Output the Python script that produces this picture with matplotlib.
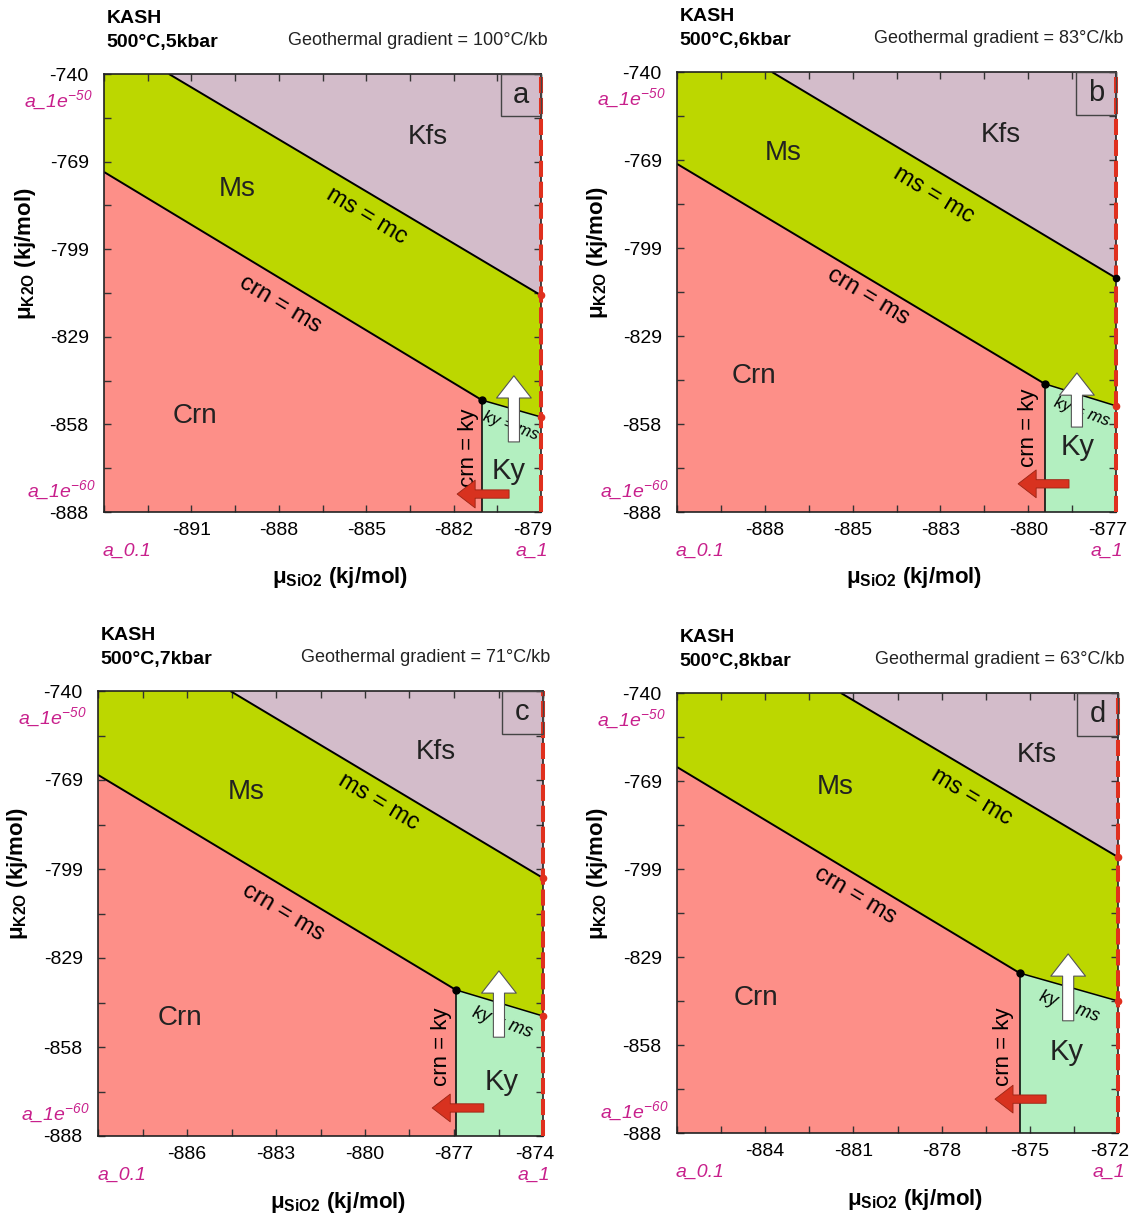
import matplotlib.pyplot as plt
import numpy as np
from matplotlib.patches import Polygon, Rectangle
from matplotlib.transforms import ScaledTranslation

plt.rcParams['font.family'] = ['Liberation Sans', 'DejaVu Sans']
plt.rcParams['mathtext.fontset'] = 'custom'
plt.rcParams['mathtext.rm'] = 'Liberation Sans'
plt.rcParams['mathtext.it'] = 'Liberation Sans:italic'
plt.rcParams['mathtext.bf'] = 'Liberation Sans:bold'

# --- data -------------------------------------------------------------
panel_names = ['a', 'b', 'c', 'd']
pressures = [5, 6, 7, 8]          # kbar, T = 500 C
gradients = [100, 83, 71, 63]     # C/kb

# mu SiO2 at a_SiO2 = 1 (right edge); left edge is a_SiO2 = 0.1
sio2_max = [-879.0, -876.6, -874.2, -872.0]
sio2_span = 14.8
k2o_top = -740.0       # a_K2O = 1e-50
k2o_bottom = -888.0    # a_K2O = 1e-60

x_tick_labels = [
    ['-891', '-888', '-885', '-882', '-879'],
    ['-888', '-885', '-883', '-880', '-877'],
    ['-886', '-883', '-880', '-877', '-874'],
    ['-884', '-881', '-878', '-875', '-872'],
]
y_tick_labels = ['-888', '-858', '-829', '-799', '-769', '-740']

# reaction lines (kJ/mol)
ms_mc_top_x = [-891.6, -888.2, -884.6, -881.3]
ms_mc_right_y = [-814.8, -809.3, -802.2, -795.2]
crn_ms_left_y = [-773.1, -770.9, -767.9, -764.9]
triple_x = [-881.0, -879.0, -877.1, -875.3]
triple_y = [-850.2, -844.9, -839.4, -834.2]
ky_ms_right_y = [-855.9, -852.3, -848.1, -843.6]

# --- styling / layout -------------------------------------------------
KFS = '#d3bcca'
MS = '#bcd700'
CRN = '#fd8f88'
KY = '#b3efc0'
RED = '#e0301e'
MAGENTA = '#c8208c'

W, H = 1135, 1227
# axes boxes in pixels: left, right, top, bottom
boxes = [(104, 541, 74, 512), (677, 1116, 72, 512),
         (98, 543, 691, 1136), (677, 1118, 693, 1133)]

# label spots in axes fraction
region_pos = [
    {'Kfs': (0.741, 0.856), 'Ms': (0.304, 0.738), 'Crn': (0.208, 0.219), 'Ky': (0.927, 0.093)},
    {'Kfs': (0.738, 0.857), 'Ms': (0.241, 0.816), 'Crn': (0.175, 0.309), 'Ky': (0.913, 0.148)},
    {'Kfs': (0.760, 0.863), 'Ms': (0.333, 0.773), 'Crn': (0.184, 0.265), 'Ky': (0.908, 0.121)},
    {'Kfs': (0.816, 0.859), 'Ms': (0.358, 0.786), 'Crn': (0.179, 0.307), 'Ky': (0.884, 0.184)},
]
line_pos = [
    {'ms = mc': (0.602, 0.675), 'crn = ms': (0.403, 0.473), 'crn = ky': (0.833, 0.146), 'ky = ms': (0.931, 0.197)},
    {'ms = mc': (0.585, 0.720), 'crn = ms': (0.435, 0.491), 'crn = ky': (0.800, 0.191), 'ky = ms': (0.923, 0.227)},
    {'ms = mc': (0.631, 0.751), 'crn = ms': (0.416, 0.503), 'crn = ky': (0.771, 0.200), 'ky = ms': (0.908, 0.254)},
    {'ms = mc': (0.669, 0.764), 'crn = ms': (0.404, 0.541), 'crn = ky': (0.741, 0.195), 'ky = ms': (0.889, 0.286)},
]
white_arrows = [(0.938, 0.160, 0.311), (0.911, 0.193, 0.316), (0.901, 0.222, 0.371), (0.887, 0.255, 0.407)]
red_arrows = [(0.041, 0.927, 0.808), (0.064, 0.893, 0.777), (0.063, 0.867, 0.751), (0.077, 0.837, 0.721)]
edge_dot_colors = [(RED, RED), ('black', RED), (RED, RED), (RED, RED)]


def draw_panel(fig, i):
    l, r, t, b = boxes[i]
    ax = fig.add_axes([l / W, 1 - b / H, (r - l) / W, (b - t) / H])
    xr = sio2_max[i]
    xl = xr - sio2_span
    yt, yb = k2o_top, k2o_bottom
    tx, ty = triple_x[i], triple_y[i]

    ax.set_xlim(xl, xr)
    ax.set_ylim(yb, yt)
    ax.set_facecolor(KFS)

    ms_poly = [(xl, yt), (ms_mc_top_x[i], yt), (xr, ms_mc_right_y[i]),
               (xr, ky_ms_right_y[i]), (tx, ty), (xl, crn_ms_left_y[i])]
    crn_poly = [(xl, crn_ms_left_y[i]), (tx, ty), (tx, yb), (xl, yb)]
    ky_poly = [(tx, ty), (xr, ky_ms_right_y[i]), (xr, yb), (tx, yb)]
    for pts, col in [(ms_poly, MS), (crn_poly, CRN), (ky_poly, KY)]:
        ax.add_patch(Polygon(pts, closed=True, fc=col, ec='none', zorder=1))

    lk = dict(color='black', lw=1.4, zorder=2, solid_capstyle='butt')
    ax.plot([ms_mc_top_x[i], xr], [yt, ms_mc_right_y[i]], **lk)
    ax.plot([xl, tx], [crn_ms_left_y[i], ty], **lk)
    ax.plot([tx, xr], [ty, ky_ms_right_y[i]], lw=1.1, color='black', zorder=2)
    ax.plot([tx, tx], [ty, yb], lw=1.1, color='black', zorder=2)

    ax.axvline(xr, color=RED, lw=2.9, dashes=(4.0, 1.2), zorder=4, clip_on=False)
    ax.plot(tx, ty, 'o', color='black', ms=5, zorder=5)
    c1, c2 = edge_dot_colors[i]
    ax.plot(xr, ms_mc_right_y[i], 'o', color=c1, ms=4.5, zorder=5, clip_on=False)
    ax.plot(xr, ky_ms_right_y[i], 'o', color=c2, ms=4.5, zorder=5, clip_on=False)

    # ticks
    xt = np.linspace(xl, xr, 6)
    yt_ = np.linspace(yb, yt, 6)
    ax.set_xticks(xt)
    ax.set_xticklabels([''] + x_tick_labels[i])
    ax.set_xticks((xt[:-1] + xt[1:]) / 2, minor=True)
    ax.set_yticks(yt_)
    ax.set_yticklabels(y_tick_labels)
    ax.set_yticks((yt_[:-1] + yt_[1:]) / 2, minor=True)
    ax.tick_params(which='both', direction='in', top=True, right=True,
                   length=5, width=1, color='#333333', labelsize=14)
    ax.tick_params(axis='x', pad=7)
    ax.tick_params(axis='y', pad=11)
    last = ax.get_xticklabels()[-1]
    last.set_transform(last.get_transform() + ScaledTranslation(-0.08, 0, fig.dpi_scale_trans))
    for s in ax.spines.values():
        s.set_linewidth(1.2)
        s.set_color('#222222')
        s.set_zorder(3)

    # region and reaction labels
    for name, (px, py) in region_pos[i].items():
        ax.text(px, py, name, transform=ax.transAxes, fontsize=21 if name == 'Ky' else 20,
                color='#222222', ha='center', va='center', zorder=6)
    lp = line_pos[i]
    ax.text(*lp['ms = mc'], 'ms = mc', transform=ax.transAxes, fontsize=17,
            rotation=-31, ha='center', va='center', zorder=6)
    ax.text(*lp['crn = ms'], 'crn = ms', transform=ax.transAxes, fontsize=17,
            rotation=-31, ha='center', va='center', zorder=6)
    ax.text(*lp['crn = ky'], 'crn = ky', transform=ax.transAxes, fontsize=16,
            rotation=90, ha='center', va='center', zorder=6)
    ax.text(*lp['ky = ms'], 'ky = ms', transform=ax.transAxes, fontsize=13 if i > 1 else 12,
            style='italic', rotation=-20, ha='center', va='center', zorder=6)

    # arrows
    wx, w0, w1 = white_arrows[i]
    ax.annotate('', xy=(wx, w1), xytext=(wx, w0), xycoords='axes fraction',
                arrowprops=dict(arrowstyle='simple,head_width=2.5,head_length=1.6,tail_width=0.8',
                                mutation_scale=10, fc='white', ec='#555555', lw=0.8,
                                shrinkA=0, shrinkB=0), zorder=7)
    ry, r0, r1 = red_arrows[i]
    ax.annotate('', xy=(r1, ry), xytext=(r0, ry), xycoords='axes fraction',
                arrowprops=dict(arrowstyle='simple,head_width=2.0,head_length=1.3,tail_width=0.6',
                                mutation_scale=10, fc='#d8321f', ec='#9a2414', lw=0.6,
                                shrinkA=0, shrinkB=0), zorder=7)

    # panel letter box
    ax.add_patch(Rectangle((0.908, 0.903), 0.092, 0.097, transform=ax.transAxes,
                           fc='none', ec='#444444', lw=1.0, zorder=6, clip_on=False))
    ax.text(0.954, 0.952, panel_names[i], transform=ax.transAxes, fontsize=21,
            ha='center', va='center', color='#222222', zorder=6)

    # activity markers
    ak = dict(transform=ax.transAxes, color=MAGENTA, style='italic', fontsize=14)
    ax.text(-0.025, 0.94, r'a_1e$^{\mathregular{-50}}$', ha='right', va='center', **ak)
    ax.text(-0.02, 0.05, r'a_1e$^{\mathregular{-60}}$', ha='right', va='center', **ak)
    ax.text(0.053, -0.089, 'a_0.1', ha='center', va='center', **ak)
    ax.text(0.98, -0.089, 'a_1', ha='center', va='center', **ak)

    # axis labels
    ax.text(-0.18, 0.59, r'μ$_{\mathregular{K2O}}$ (kj/mol)', transform=ax.transAxes,
            rotation=90, fontsize=16, fontweight='bold', ha='center', va='center')
    ax.text(0.54, -0.15, r'μ$_{\mathregular{SiO2}}$ (kj/mol)', transform=ax.transAxes,
            fontsize=16, fontweight='bold', ha='center', va='center')

    # headings
    ax.annotate('KASH', xy=(0, 1), xycoords='axes fraction', xytext=(2, 40),
                textcoords='offset points', fontsize=14, fontweight='bold', va='center')
    ax.annotate('500°C,%dkbar' % pressures[i], xy=(0, 1), xycoords='axes fraction',
                xytext=(2, 23), textcoords='offset points', fontsize=14,
                fontweight='bold', va='center')
    ax.annotate('Geothermal gradient = %d°C/kb' % gradients[i], xy=(1, 1),
                xycoords='axes fraction', xytext=(5, 24), textcoords='offset points',
                fontsize=13, color='#222222', ha='right', va='center')
    return ax


fig = plt.figure(figsize=(W / 100, H / 100), dpi=100)
for i in range(4):
    draw_panel(fig, i)
fig.savefig('out.png', dpi=100)
